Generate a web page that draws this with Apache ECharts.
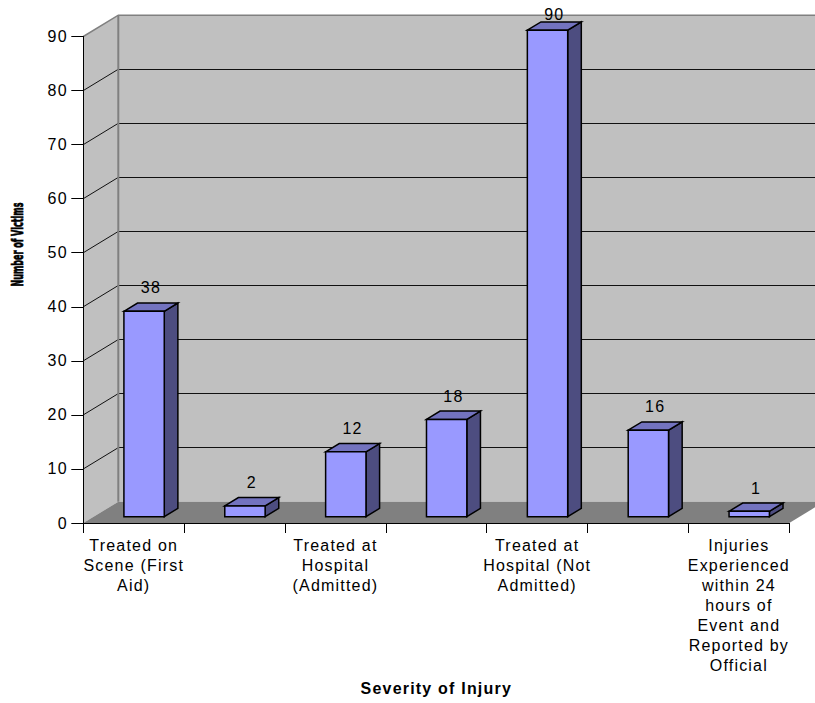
<!DOCTYPE html>
<html>
<head>
<meta charset="utf-8">
<script src="https://cdn.jsdelivr.net/npm/echarts@6/dist/echarts.min.js"></script>
<style>
  html, body { margin: 0; padding: 0; background: #ffffff; }
  #chart { width: 815px; height: 703px; letter-spacing: 1.2px; }
</style>
</head>
<body>
<div id="chart"></div>
<script>
// Injury severity counts (category labels that are not printed stay blank)
const categories = [
  'Treated on Scene (First Aid)',
  '',
  'Treated at Hospital (Admitted)',
  '',
  'Treated at Hospital (Not Admitted)',
  '',
  'Injuries Experienced within 24 hours of Event and Reported by Official'
];
const victims = [38, 2, 12, 18, 90, 16, 1];
const valueTicks = [0, 10, 20, 30, 40, 50, 60, 70, 80, 90];

const FONT_FAMILY = 'Arial, "Liberation Sans", sans-serif';
const Y_TITLE = 'Number of Victims';
const Y_TITLE_FONT = 'bold 15px "Liberation Sans Narrow", "Arial Narrow", "DejaVu Sans Condensed", Arial, "Liberation Sans", sans-serif';
const Y_TITLE_LENGTH = 84;

// Screen offset from the front plane of the box to its back wall
const DEPTH_X = 35;
const DEPTH_Y = -21.3;
// Bars sit between these fractions of the box depth
const BAR_FRONT = 0.296;
const BAR_BACK = 0.685;
const BAR_RATIO = 0.4;

const WALL = '#c0c0c0';
const FLOOR = '#808080';
const EDGE = '#808080';
const GRID_LINE = '#111111';
const BAR_FACE = '#9999ff';
const BAR_TOP = '#7373bf';
const BAR_SIDE = '#4d4d80';

function wrapLabel(text, maxChars) {
  if (!text) return '';
  const words = text.split(' ');
  const lines = [];
  let line = '';
  words.forEach(function (w) {
    const next = line ? line + ' ' + w : w;
    if (next.length > maxChars && line) {
      lines.push(line);
      line = w;
    } else {
      line = next;
    }
  });
  if (line) lines.push(line);
  return lines.join('\n');
}

// Horizontal squeeze that makes a string occupy a given length
function fitScale(text, font, length) {
  const ctx = document.createElement('canvas').getContext('2d');
  ctx.font = font;
  return length / ctx.measureText(text).width;
}

const crisp = v => Math.round(v - 0.5) + 0.5;

// Back wall, side wall, floor and the value gridlines of the 3-D box
function renderRoom(params, api) {
  const cs = params.coordSys;
  const L = cs.x, R = cs.x + cs.width, T = cs.y, B = cs.y + cs.height;
  const dx = DEPTH_X, dy = DEPTH_Y;
  const children = [];

  children.push({
    type: 'polygon',
    shape: { points: [[L, T], [L + dx, T + dy], [L + dx, B + dy], [L, B]] },
    style: { fill: WALL }
  });
  children.push({
    type: 'rect',
    shape: { x: L + dx, y: T + dy, width: R - L, height: B - T },
    style: { fill: WALL }
  });

  valueTicks.forEach(function (v, k) {
    if (k === 0 || k === valueTicks.length - 1) return;
    const y = api.coord([0, v])[1];
    const yb = crisp(y + dy);
    children.push({
      type: 'line',
      shape: { x1: L, y1: y, x2: L + dx, y2: y + dy },
      style: { stroke: GRID_LINE, lineWidth: 1 }
    });
    children.push({
      type: 'line',
      shape: { x1: L + dx, y1: yb, x2: R + dx, y2: yb },
      style: { stroke: GRID_LINE, lineWidth: 1 }
    });
  });

  children.push({
    type: 'polygon',
    shape: { points: [[L, B], [R, B], [R + dx, B + dy], [L + dx, B + dy]] },
    style: { fill: FLOOR }
  });

  // wall edges
  children.push({
    type: 'polyline',
    shape: { points: [[L, T], [L + dx, T + dy], [R + dx, T + dy]] },
    style: { stroke: EDGE, lineWidth: 1.5, fill: null }
  });
  children.push({
    type: 'line',
    shape: { x1: L + dx, y1: T + dy, x2: L + dx, y2: B + dy },
    style: { stroke: EDGE, lineWidth: 2 }
  });

  return { type: 'group', children: children };
}

// One 3-D column: front face, top face, right side face and value label
function renderBar(params, api) {
  const idx = api.value(0);
  const val = api.value(1);
  const base = api.coord([idx, 0]);
  const tip = api.coord([idx, val]);
  const bw = api.size([1, 0])[0] * BAR_RATIO;

  const fx = base[0] - bw / 2 + DEPTH_X * BAR_FRONT;
  const fy0 = base[1] + DEPTH_Y * BAR_FRONT;
  const fy1 = tip[1] + DEPTH_Y * BAR_FRONT;
  const bdx = DEPTH_X * (BAR_BACK - BAR_FRONT);
  const bdy = DEPTH_Y * (BAR_BACK - BAR_FRONT);
  const stroke = { stroke: '#000000', lineWidth: 1.5, lineJoin: 'miter' };

  return {
    type: 'group',
    children: [
      {
        type: 'polygon',
        shape: { points: [[fx + bw, fy1], [fx + bw + bdx, fy1 + bdy], [fx + bw + bdx, fy0 + bdy], [fx + bw, fy0]] },
        style: Object.assign({ fill: BAR_SIDE }, stroke)
      },
      {
        type: 'polygon',
        shape: { points: [[fx, fy1], [fx + bdx, fy1 + bdy], [fx + bw + bdx, fy1 + bdy], [fx + bw, fy1]] },
        style: Object.assign({ fill: BAR_TOP }, stroke)
      },
      {
        type: 'rect',
        shape: { x: fx, y: fy1, width: bw, height: fy0 - fy1 },
        style: Object.assign({ fill: BAR_FACE }, stroke)
      },
      {
        type: 'text',
        x: fx + bw / 2 + bdx / 2,
        y: Math.max(fy1 + bdy - 15, 14.5),
        style: {
          text: String(val),
          fill: '#000000',
          font: '16px ' + FONT_FAMILY,
          textAlign: 'center',
          textVerticalAlign: 'middle'
        }
      }
    ]
  };
}

const chart = echarts.init(document.getElementById('chart'), null, { renderer: 'svg' });

chart.setOption({
  animation: false,
  backgroundColor: '#ffffff',
  grid: { left: 83.3, right: 25.7, top: 36.5, bottom: 180, containLabel: false },
  xAxis: {
    type: 'category',
    data: categories,
    z: 5,
    boundaryGap: true,
    axisLine: { show: true, lineStyle: { color: '#000000', width: 1 } },
    axisTick: { show: true, length: 10, interval: 0, lineStyle: { color: '#000000', width: 1 } },
    axisLabel: {
      interval: 0,
      margin: 12,
      color: '#000000',
      fontFamily: FONT_FAMILY,
      fontSize: 16,
      lineHeight: 20,
      formatter: v => wrapLabel(v, 13)
    },
    splitLine: { show: false },
    name: 'Severity of Injury',
    nameLocation: 'middle',
    nameGap: 157,
    nameTextStyle: { color: '#000000', fontFamily: FONT_FAMILY, fontSize: 16, fontWeight: 'bold' }
  },
  yAxis: {
    type: 'value',
    min: valueTicks[0],
    max: valueTicks[valueTicks.length - 1],
    interval: valueTicks[1] - valueTicks[0],
    z: 5,
    axisLine: { show: true, lineStyle: { color: '#000000', width: 1 } },
    axisTick: { show: true, length: 12, lineStyle: { color: '#000000', width: 1 } },
    axisLabel: { margin: 15.5, color: '#000000', fontFamily: FONT_FAMILY, fontSize: 16 },
    splitLine: { show: false }
  },
  graphic: [
    {
      type: 'text',
      x: 18,
      y: 244.5,
      rotation: Math.PI / 2,
      scaleX: fitScale(Y_TITLE, Y_TITLE_FONT, Y_TITLE_LENGTH),
      style: {
        text: Y_TITLE,
        fill: '#000000',
        stroke: '#000000',
        lineWidth: 0.7,
        font: Y_TITLE_FONT,
        textAlign: 'center',
        textVerticalAlign: 'middle'
      }
    }
  ],
  series: [
    {
      type: 'custom',
      name: 'box',
      z: 1,
      silent: true,
      renderItem: renderRoom,
      data: [[0, 0]]
    },
    {
      type: 'custom',
      name: 'victims',
      z: 3,
      renderItem: renderBar,
      encode: { x: 0, y: 1 },
      data: victims.map((v, i) => [i, v])
    }
  ]
});

// The rotated axis title is set tight, without the tracking of the other text
function tightenTitle() {
  document.querySelectorAll('#chart text').forEach(function (t) {
    if (t.textContent === Y_TITLE) t.style.letterSpacing = '0px';
  });
}
tightenTitle();
chart.on('finished', tightenTitle);
</script>
</body>
</html>
